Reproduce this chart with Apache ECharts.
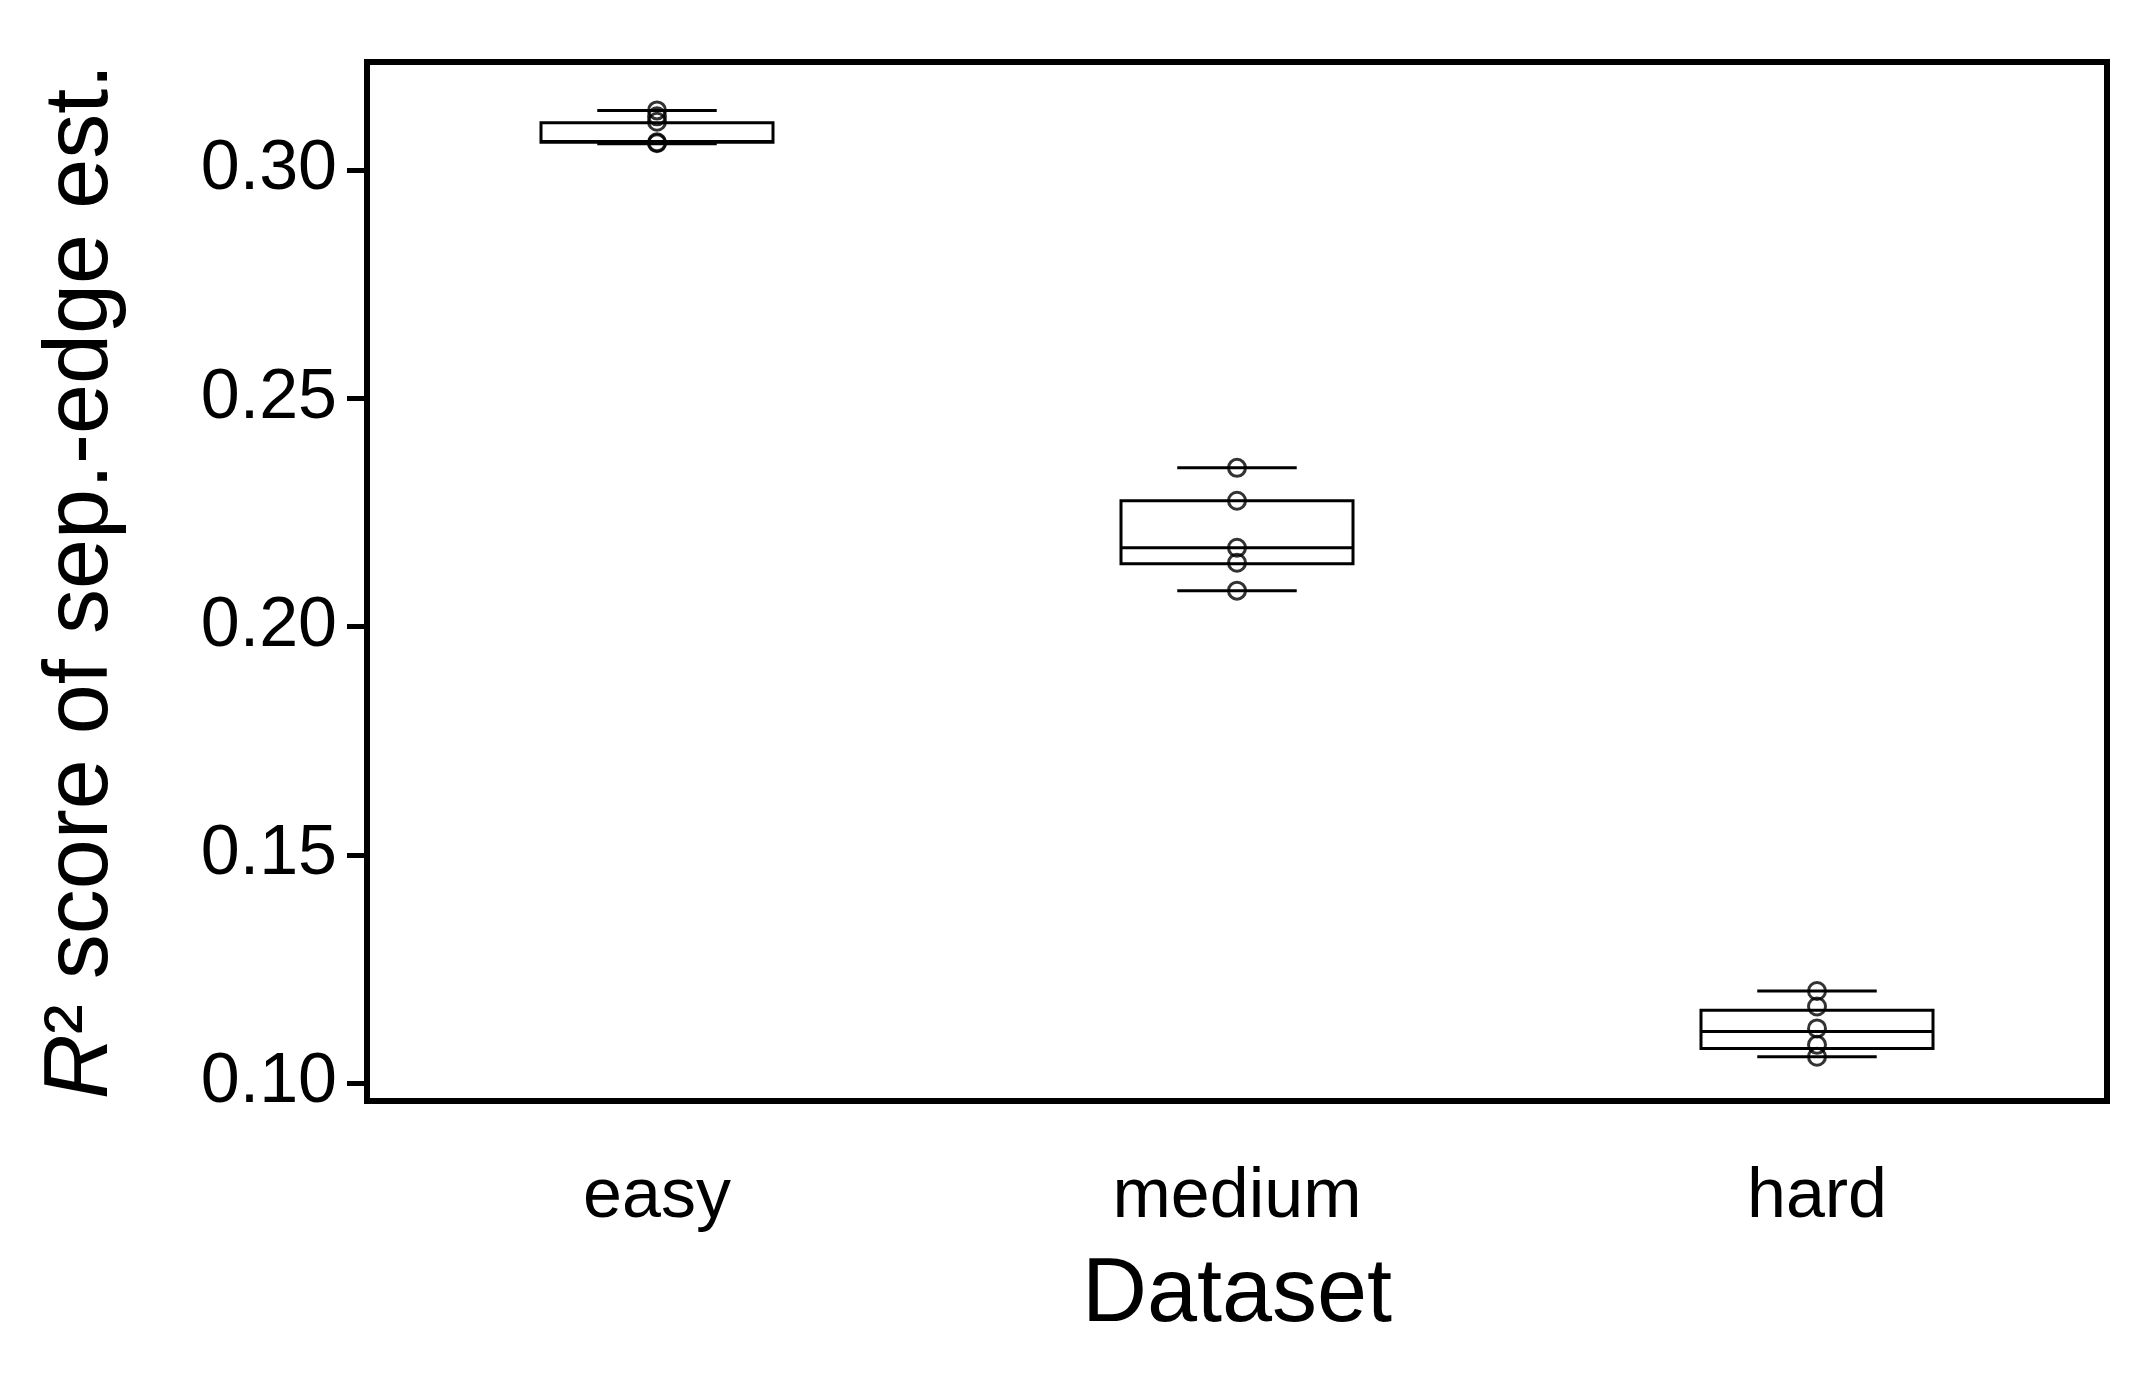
<!DOCTYPE html>
<html><head><meta charset="utf-8">
<script src="https://cdn.jsdelivr.net/npm/echarts@6/dist/echarts.min.js"></script>
<style>html,body{margin:0;padding:0;background:#fff}#c{width:2150px;height:1381px}</style>
</head><body><div id="c"></div>
<script>
const categories = ['easy', 'medium', 'hard'];
// [whiskerLow, Q1, median, Q3, whiskerHigh]
const boxStats = [
  [0.3058, 0.3061, 0.3063, 0.3104, 0.3131],
  [0.2079, 0.2138, 0.2173, 0.2276, 0.2348],
  [0.1058, 0.1076, 0.1113, 0.1160, 0.1202]
];
const easyPoints = [0.3131, 0.3118, 0.3106, 0.3061, 0.3059];
const mediumPoints = [0.2348, 0.2276, 0.2173, 0.2140, 0.2079];
const hardPoints = [0.1202, 0.1168, 0.1120, 0.1084, 0.1058];
const yTicks = [0.10, 0.15, 0.20, 0.25, 0.30];

const pts = [];
[easyPoints, mediumPoints, hardPoints].forEach((arr, i) => arr.forEach(v => pts.push([i, v])));
const boxData = boxStats.map((s, i) => [i].concat(s));

const chart = echarts.init(document.getElementById('c'));
const font = 'Liberation Sans, Arial, sans-serif';
chart.setOption({
  animation: false,
  grid: { left: 367, right: 43, top: 62, bottom: 280, show: true, borderColor: '#000', borderWidth: 6, containLabel: false },
  xAxis: {
    type: 'category', data: categories, boundaryGap: true,
    name: 'Dataset', nameLocation: 'middle', nameGap: 150,
    nameTextStyle: { fontSize: 90, fontFamily: font, color: '#000' },
    axisLine: { lineStyle: { color: '#000', width: 6 } },
    axisTick: { alignWithLabel: true, length: 34, lineStyle: { color: '#000', width: 5 } },
    axisLabel: { fontSize: 70, fontFamily: font, color: '#000', margin: 62 },
    splitLine: { show: false }
  },
  yAxis: {
    type: 'value', min: 0.0961, max: 0.3237,
    name: '{i|R}² score of sep.-edge est.', nameLocation: 'middle', nameGap: 240,
    nameTextStyle: { fontSize: 90, fontFamily: font, color: '#000',
      rich: { i: { fontSize: 90, fontStyle: 'italic', fontFamily: font, color: '#000' } } },
    axisLine: { show: true, lineStyle: { color: '#000', width: 6 } },
    axisTick: { show: true, length: 20, lineStyle: { color: '#000', width: 5 }, customValues: yTicks },
    axisLabel: { fontSize: 70, fontFamily: font, color: '#000', margin: 30,
      customValues: yTicks, formatter: v => v.toFixed(2) },
    splitLine: { show: false }
  },
  series: [
    {
      type: 'custom', data: boxData, z: 2,
      renderItem: function (params, api) {
        const i = api.value(0);
        const bw = api.size([1, 0])[0];
        const hb = bw * 0.2, hc = bw * 0.103;
        const c = (v) => api.coord([i, v]);
        const lo = c(api.value(1)), q1 = c(api.value(2)), md = c(api.value(3)), q3 = c(api.value(4)), hi = c(api.value(5));
        const x = md[0];
        const st = { stroke: '#000', lineWidth: 3, fill: null };
        return { type: 'group', children: [
          { type: 'rect', shape: { x: x - hb, y: q3[1], width: 2 * hb, height: q1[1] - q3[1] }, style: { stroke: '#000', lineWidth: 3, fill: '#fff' } },
          { type: 'line', shape: { x1: x - hb, y1: md[1], x2: x + hb, y2: md[1] }, style: st },
          { type: 'line', shape: { x1: x - hc, y1: lo[1], x2: x + hc, y2: lo[1] }, style: st },
          { type: 'line', shape: { x1: x - hc, y1: hi[1], x2: x + hc, y2: hi[1] }, style: st }
        ]};
      }
    },
    {
      type: 'scatter', data: pts, z: 3, symbol: 'circle', symbolSize: 17,
      itemStyle: { color: 'rgba(0,0,0,0)', borderColor: '#000', borderWidth: 3 }
    }
  ]
});
</script></body></html>
